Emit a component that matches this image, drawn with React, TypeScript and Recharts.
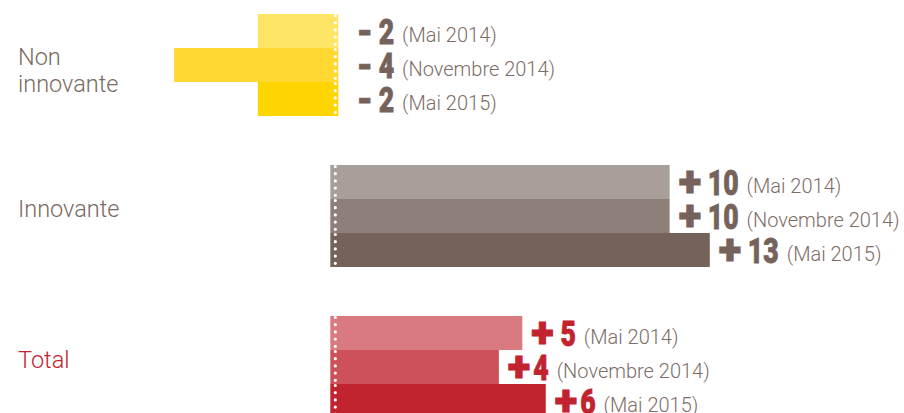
import React from 'react';
import { BarChart, Bar, XAxis, YAxis, Cell, LabelList } from 'recharts';

const categories = ['Non innovante', 'Innovante', 'Total'];
const periods = ['(Mai 2014)', '(Novembre 2014)', '(Mai 2015)'];
const mai2014 = [-2.3, 10.0, 5.6];
const nov2014 = [-4.8, 10.0, 4.9];
const mai2015 = [-2.3, 11.2, 6.3];
const mai2014Text = ['- 2', '+ 10', '+ 5'];
const nov2014Text = ['- 4', '+ 10', '+4'];
const mai2015Text = ['- 2', '+ 13', '+6'];

const seriesColors = [
  ['#FFE566', '#A99F9A', '#D97A80'],
  ['#FFD932', '#8E8079', '#CD5159'],
  ['#FFD500', '#75635B', '#C1232F'],
];
const categoryColors = ['#7B6A62', '#7B6A62', '#C1232F'];
const numberColors = ['#75635B', '#75635B', '#C1232F'];

const data = categories.map((name, i) => ({
  name,
  mai2014: mai2014[i],
  nov2014: nov2014[i],
  mai2015: mai2015[i],
}));

const series = [
  { key: 'mai2014', values: mai2014, texts: mai2014Text, period: periods[0], colors: seriesColors[0] },
  { key: 'nov2014', values: nov2014, texts: nov2014Text, period: periods[1], colors: seriesColors[1] },
  { key: 'mai2015', values: mai2015, texts: mai2015Text, period: periods[2], colors: seriesColors[2] },
];

const NUM_FONT = "Roboto, 'DejaVu Sans', sans-serif";
const NUM_FONT_SIZE = 36;
const PLUS_FONT_SIZE = 42;
const NUM_SCALE = 0.74;
let ctx: CanvasRenderingContext2D | null = null;
function measure(t: string, scale: number, size: number): number {
  if (typeof document !== 'undefined' && !ctx) {
    ctx = document.createElement('canvas').getContext('2d');
  }
  if (ctx) {
    ctx.font = `900 ${size}px Roboto`;
    return ctx.measureText(t).width * scale;
  }
  return t.length * size * 0.5 * scale;
}

const makeLabel = (values: number[], texts: string[], period: string) => (props: any) => {
  const vb = props.viewBox || {};
  const x = Number(props.x ?? vb.x);
  const y = Number(props.y ?? vb.y);
  const width = Number(props.width ?? vb.width);
  const height = Number(props.height ?? vb.height);
  let index = typeof props.index === 'number' ? props.index : values.indexOf(Number(props.value));
  if (index < 0) index = 0;
  const v = values[index];
  const right = Math.max(x, x + width);
  const nx = right + (v < 0 ? 22 : 9);
  const cy = Math.min(y, y + height) + Math.abs(height) / 2;
  const txt = texts[index];
  const sign = txt.charAt(0);
  const rest = txt.slice(1);
  const isPlus = sign === '+';
  const signSize = isPlus ? PLUS_FONT_SIZE : NUM_FONT_SIZE;
  const extra = isPlus ? (rest.startsWith(' ') ? 0 : 3) : -1;
  const signW = measure(sign, 1, signSize) + extra;
  const restW = measure(rest, NUM_SCALE, NUM_FONT_SIZE);
  const col = numberColors[index];
  return (
    <g>
      <text
        x={nx}
        y={cy + (isPlus ? 14 : 12.5)}
        fontFamily={NUM_FONT}
        fontWeight={900}
        fontSize={signSize}
        fill={col}
        stroke={col}
        strokeWidth={0.8}
      >
        {sign}
      </text>
      <text
        transform={`translate(${nx + signW},${cy + 12.5}) scale(${NUM_SCALE},1)`}
        fontFamily={NUM_FONT}
        fontWeight={900}
        fontSize={NUM_FONT_SIZE}
        fill={col}
        stroke={col}
        strokeWidth={0.8}
        style={{ whiteSpace: 'pre' }}
      >
        {rest}
      </text>
      <text
        x={nx + signW + restW + 8}
        y={cy + 11}
        fontFamily="Roboto, 'Liberation Sans', sans-serif"
        fontWeight={300}
        fontSize={20}
        fill="#7D6D66"
      >
        {period}
      </text>
    </g>
  );
};

const makeShape = (key: string) => (props: any) => {
  const x = Number(props.x);
  const y = Number(props.y);
  const width = Number(props.width);
  const height = Number(props.height);
  const v = Number(props.payload?.[key] ?? props.value);
  const x1 = Math.min(x, x + width);
  const x2 = Math.max(x, x + width);
  const zero = v >= 0 ? x1 : x2;
  const rx = v >= 0 ? x1 - 4.5 : x1;
  const rw = x2 - x1 + (v >= 0 ? 4.5 : 3.5);
  return (
    <g>
      <rect x={rx} y={y} width={rw} height={height} fill={props.fill} />
      <line
        x1={zero + 0.5}
        x2={zero + 0.5}
        y1={y + 1.5}
        y2={y + height}
        stroke="#ffffff"
        strokeWidth={3.2}
        strokeDasharray="0 7.2"
        strokeLinecap="round"
      />
    </g>
  );
};

const CatTick = (props: any) => {
  const { y, payload } = props;
  const name = String(payload?.value ?? '');
  const i = categories.indexOf(name);
  const lines = name.split(' ');
  const first = lines.length > 1 ? Number(y) + 0.5 : Number(y) + 1;
  return (
    <text
      x={18}
      y={first}
      fontFamily="Roboto, 'Liberation Sans', sans-serif"
      fontWeight={300}
      fontSize={23.5}
      fill={categoryColors[i] || '#7B6A62'}
    >
      {lines.map((l, k) => (
        <tspan key={k} x={18} dy={k === 0 ? 0 : 27}>
          {l}
        </tspan>
      ))}
    </text>
  );
};

export default function App() {
  return (
    <div style={{ position: 'absolute', left: 0, top: 0, width: 904, height: 413, overflow: 'hidden', background: '#fff' }}>
      <div style={{ marginTop: -11 }}>
        <BarChart
          layout="vertical"
          width={904}
          height={453}
          data={data}
          margin={{ top: 0, right: 0, bottom: 0, left: -1 }}
          barGap={0}
        >
          <XAxis type="number" domain={[-10, 17]} hide />
          <YAxis
            type="category"
            dataKey="name"
            width={1}
            axisLine={false}
            tickLine={false}
            interval={0}
            tick={<CatTick />}
          />
          {series.map((s) => (
            <Bar key={s.key} dataKey={s.key} barSize={34} isAnimationActive={false} shape={makeShape(s.key)}>
              {data.map((d, i) => (
                <Cell key={i} fill={s.colors[i]} />
              ))}
              <LabelList dataKey={s.key} content={makeLabel(s.values, s.texts, s.period)} />
            </Bar>
          ))}
        </BarChart>
      </div>
    </div>
  );
}
